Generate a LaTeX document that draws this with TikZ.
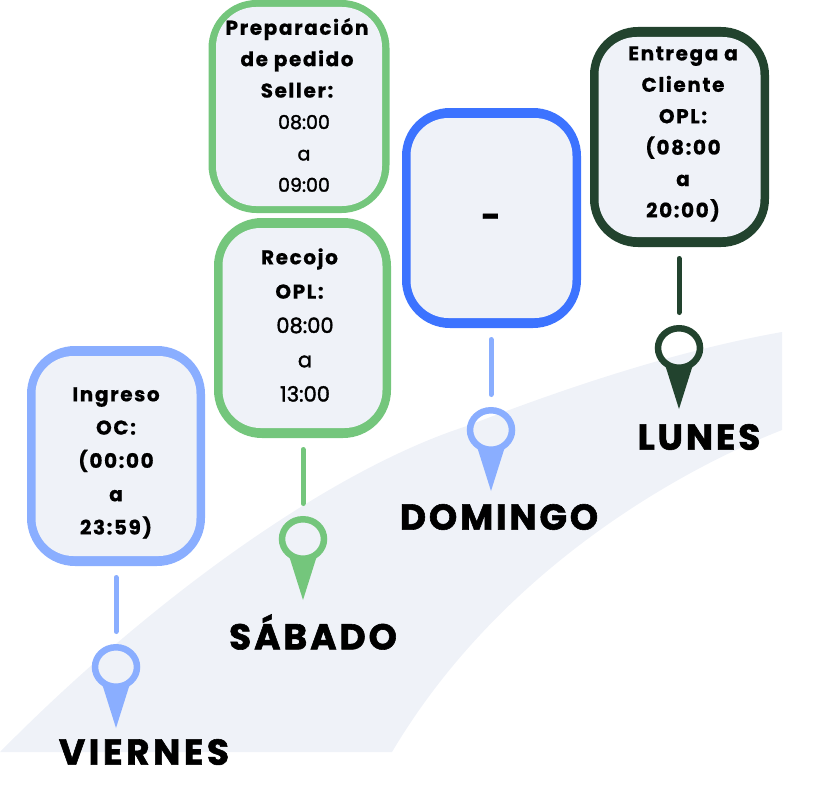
\documentclass[tikz,border=0pt]{standalone}
\usepackage{fontspec}
\usetikzlibrary{shapes.geometric}
\newfontfamily\headfont[LetterSpace=8,BoldFeatures={FakeBold=0.6}]{Poppins}
\newfontfamily\timefont[FakeBold=1.7]{Poppins}
\newfontfamily\dayfont[LetterSpace=8,BoldFeatures={FakeBold=1.6}]{Poppins}
\definecolor{bandc}{HTML}{EFF2F8}
\definecolor{lblue}{HTML}{8AAEFF}
\definecolor{mgreen}{HTML}{74C67C}
\definecolor{sblue}{HTML}{3C73FF}
\definecolor{dgreen}{HTML}{22432E}
\newcommand{\hd}[1]{{\headfont\bfseries #1}}
\newcommand{\tm}[3][0pt]{\hspace*{#1}{\timefont\fontsize{#2}{0}\selectfont #3}}
\tikzset{
  frame/.style={fill=#1,rounded corners=48pt,inner sep=0pt,outer sep=0pt,anchor=center},
  panel/.style={fill=bandc,rounded corners=38pt,inner sep=0pt,outer sep=0pt,anchor=center},
  boxtext/.style={align=center,anchor=center,inner sep=0pt,text=black,font=\fontsize{20}{31.4}\selectfont},
  daylabel/.style={anchor=center,inner sep=0pt,text=black,font=\dayfont\bfseries\fontsize{36}{36}\selectfont},
  stem/.style={draw=#1,line width=5pt,line cap=round,shorten <=11.5pt,shorten >=12.5pt},
  pinhead/.style={draw=#1,shape=ellipse,minimum width=42pt,minimum height=39.5pt,line width=6.5pt,inner sep=0pt},
}
\newcommand{\pintail}[2]{\fill[#2] ([shift={(-14.5,15)}]#1.center) -- ([shift={(0,61)}]#1.center) -- ([shift={(14.5,15)}]#1.center) -- ([shift={(0,17.5)}]#1.center) -- cycle;}
\begin{document}
\begin{tikzpicture}[x=1pt,y=-1pt]
\useasboundingbox (0,0) rectangle (840,792);
\fill[bandc] (0,752) .. controls (150,600) and (330,470) .. (467,426) .. controls (570,386) and (680,350) .. (782,332) -- (782,430) .. controls (680,470) and (500,570) .. (392,752) -- cycle;

\node[frame=lblue,minimum width=178pt,minimum height=220pt] (b1) at (116,456) {};
\node[panel,minimum width=161pt,minimum height=200pt] (i1) at (b1.center) {};
\node[frame=mgreen,minimum width=181pt,minimum height=213pt] (b2) at (299,106.5) {};
\node[panel,minimum width=166pt,minimum height=199pt,rounded corners=40pt] (i2) at (b2.center) {};
\node[frame=mgreen,minimum width=177pt,minimum height=220pt] (b3) at (302.5,328) {};
\node[panel,minimum width=160pt,minimum height=200pt] (i3) at (b3.center) {};
\node[frame=sblue,minimum width=179pt,minimum height=220pt] (b4) at (491.5,218) {};
\node[panel,minimum width=162pt,minimum height=200pt] (i4) at (b4.center) {};
\node[frame=dgreen,minimum width=179pt,minimum height=220pt] (b5) at (679.5,137) {};
\node[panel,minimum width=162pt,minimum height=200pt] (i5) at (b5.center) {};

\node[boxtext,font=\fontsize{20}{33.3}\selectfont] (t1) at (116,463) {\hd{Ingreso}\\\hd{OC:}\\\hd{(00:00}\\\hd{a}\\\hd{23:59)}};
\node[boxtext] (t2) at (297,105) {\hd{Preparación}\\\hd{de pedido}\\\hd{Seller:}\\\tm[14pt]{19}{08:00}\\\tm[14pt]{19}{a}\\\tm[14pt]{19}{09:00}};
\node[boxtext,font=\fontsize{20}{34.3}\selectfont] (t3) at (299.5,325) {\hd{Recojo}\\\hd{OPL:}\\\tm[11pt]{21}{08:00}\\\tm[11pt]{21}{a}\\\tm[11pt]{21}{13:00}};
\node[boxtext,font=\fontsize{34}{34}\selectfont] (t4) at (491,221) {\hd{-}};
\node[boxtext] (t5) at (683,134) {\hd{Entrega a}\\\hd{Cliente}\\\hd{OPL:}\\\hd{(08:00}\\\hd{a}\\\hd{20:00)}};

\node[pinhead=lblue] (p1) at (116,667) {};
\node[pinhead=mgreen] (p2) at (303,539) {};
\node[pinhead=lblue] (p3) at (491,430) {};
\node[pinhead=dgreen] (p4) at (679,348) {};
\pintail{p1}{lblue}
\pintail{p2}{mgreen}
\pintail{p3}{lblue}
\pintail{p4}{dgreen}

\draw[stem=lblue] (p1 |- b1.south) -- (p1.north);
\draw[stem=mgreen] (p2 |- b3.south) -- (p2.north);
\draw[stem=lblue] (p3 |- b4.south) -- (p3.north);
\draw[stem=dgreen] (p4 |- b5.south) -- (p4.north);

\node[daylabel] (d1) at (144,752) {\addfontfeature{LetterSpace=10}VIERNES};
\node[daylabel] (d2) at (313,632) {SÁBADO};
\node[daylabel] (d3) at (499,517) {DOMINGO};
\node[daylabel] (d4) at (699,437) {LUNES};
\end{tikzpicture}
\end{document}
